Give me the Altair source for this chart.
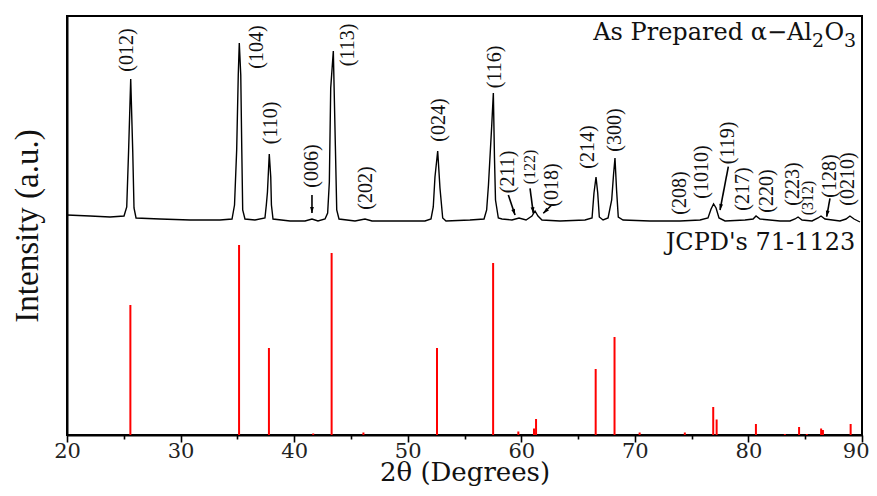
import math
import altair as alt
import pandas as pd

# ---------------- data ----------------
# Experimental pattern: 2-theta (degrees) and intensity (a.u.)
pattern_2theta = [
    20.00, 22.03, 23.79, 25.02,
    25.26, 25.42, 25.61, 25.79, 25.90, 26.08,
    28.19, 30.83, 33.47,
    34.53, 34.75, 34.94, 35.08, 35.17, 35.30, 35.39, 35.47, 35.67,
    36.55, 37.43, 37.55, 37.65, 37.81, 37.94, 38.00, 38.14,
    39.64, 40.96, 41.57, 42.10,
    42.72, 42.95, 43.10, 43.22, 43.45, 43.63, 43.75, 43.95,
    45.36, 46.24, 46.86, 49.32, 51.52,
    52.05, 52.25, 52.40, 52.64, 52.84, 53.08, 53.37,
    55.48, 56.72, 56.95, 57.11, 57.40, 57.54, 57.64, 57.73, 57.98,
    58.30, 59.18, 59.80, 60.42, 60.94, 61.21, 61.47, 61.82,
    63.41, 65.61,
    66.23, 66.40, 66.58, 66.73, 66.87, 67.20,
    67.64, 67.96, 68.12, 68.25, 68.39, 68.54, 68.96,
    71.33, 73.97, 75.74,
    76.44, 76.71, 76.93, 77.15, 77.41, 77.94,
    79.70, 80.41, 80.67, 81.02, 82.78, 83.66,
    84.10, 84.37, 84.72, 85.60,
    86.13, 86.39, 86.74, 88.06,
    88.59, 88.94, 89.30, 89.82,
]
pattern_intensity = [
    220, 219, 218, 219,
    228, 283, 356, 283, 227, 217,
    216, 215, 215,
    216, 230, 285, 360, 392, 360, 285, 225, 216,
    215, 217, 230, 243, 281, 258, 230, 216,
    214, 214, 216, 214,
    216, 222, 253, 347, 384, 289, 225, 216,
    214, 216, 214, 214, 214,
    216, 228, 258, 284, 247, 217, 214,
    215, 216, 225, 250, 310, 342, 277, 235, 217,
    216, 215, 217, 215, 219, 224, 219, 215,
    214, 215,
    217, 242, 258, 242, 218, 215,
    217, 235, 260, 277, 245, 218, 215,
    214, 214, 215,
    217, 226, 231, 227, 217, 214,
    215, 216, 219, 216, 214, 214,
    216, 218, 215, 214,
    217, 219, 216, 214,
    216, 219, 216, 213,
]

# Reference sticks (JCPDS 71-1123)
ref_2theta = [25.58, 35.15, 37.78, 41.68, 43.30, 46.10, 52.58, 57.52, 59.74,
              61.12, 61.30, 66.55, 68.21, 70.42, 74.40, 76.90, 77.20, 80.66,
              83.21, 84.46, 85.14, 86.40, 86.56, 89.00]
ref_intensity = [130, 190, 87, 1.5, 182, 2.5, 87, 172, 3.5,
                 6.5, 16, 66, 98, 2.5, 2.5, 28, 15.5, 11,
                 1, 8, 1, 6.5, 5, 11]

# Miller index labels
label_text = ["(012)", "(104)", "(110)", "(006)", "(113)", "(202)", "(024)",
              "(116)", "(211)", "(122)", "(018)", "(214)", "(300)", "(208)",
              "(1010)", "(119)", "(217)", "(220)", "(223)", "(312)", "(128)",
              "(0210)"]
label_x = [25.26, 36.70, 37.96, 41.55, 44.77, 46.33, 52.78,
           57.69, 58.86, 60.77, 62.68, 65.90, 68.25, 73.97,
           75.89, 78.23, 79.55, 81.61, 83.95, 85.25, 87.18,
           88.79]
label_y = [385, 388, 312, 269, 390, 247, 315,
           368, 263, 268, 250, 288, 305, 242,
           263, 292, 246, 244, 251, 237, 259,
           256]
label_size = [20, 20, 20, 20, 20, 20, 20,
              20, 20, 16, 20, 20, 20, 20,
              20, 20, 20, 20, 20, 16, 20,
              20]

# Arrows pointing at weak reflections
arrow_x0 = [41.57, 58.86, 60.77, 62.68, 78.23, 87.18]
arrow_y0 = [240, 240, 246.7, 230, 268.3, 236.7]
arrow_x1 = [41.57, 59.45, 61.06, 61.94, 77.50, 86.89]
arrow_y1 = [222, 220, 221.7, 221.7, 225, 218.3]

# Text annotations
title_main = "As Prepared α−Al"
sub_parts = ["2", "O", "3"]
sub_x = [85.60, 86.70, 88.42]
sub_y = [388, 395, 388]
sub_size = [19, 24, 19]
jcpd_text = "JCPD's 71-1123"

# ---------------- chart ----------------
W, H = 795, 419
X_DOM = [20, 90]
Y_DOM = [0, 419]
px_deg = W / (X_DOM[1] - X_DOM[0])
px_int = H / (Y_DOM[1] - Y_DOM[0])

pattern_df = pd.DataFrame({"x": pattern_2theta, "y": pattern_intensity,
                           "order": list(range(len(pattern_2theta)))})
ref_df = pd.DataFrame({"x": ref_2theta, "y": ref_intensity,
                       "base": [0] * len(ref_2theta)})
labels_df = pd.DataFrame({"x": label_x, "y": label_y, "text": label_text,
                          "size": label_size})

heads = []
for x0, y0, x1, y1 in zip(arrow_x0, arrow_y0, arrow_x1, arrow_y1):
    dx = (x1 - x0) * px_deg
    dy = (y1 - y0) * px_int
    ln = math.hypot(dx, dy)
    ang = math.degrees(math.atan2(dx, dy)) % 360
    hx = x1 - 3.5 * dx / ln / px_deg
    hy = y1 - 3.5 * dy / ln / px_int
    heads.append({"x": hx, "y": hy, "angle": ang})
arrows_df = pd.DataFrame({"x": arrow_x0, "y": arrow_y0, "x2": arrow_x1, "y2": arrow_y1})
heads_df = pd.DataFrame(heads)

xs = alt.Scale(domain=X_DOM, nice=False, zero=False)
ys = alt.Scale(domain=Y_DOM, nice=False, zero=False)

x_axis = alt.Axis(
    values=list(range(20, 91, 5)),
    labelExpr="datum.value % 10 === 0 ? datum.label : ''",
    title="2θ (Degrees)",
    grid=False,
    tickSize={"condition": {"test": "datum.value % 10 === 0", "value": 7}, "value": 4},
    tickWidth=1.6, tickColor="black",
    domainColor="black", domainWidth=2,
    labelFont="DejaVu Serif", labelFontSize=21, labelColor="#222222",
    labelPadding=-2, labelFlush=False, labelOverlap=False,
    labelAlign={"condition": {"test": "datum.value === 90", "value": "right"}, "value": "center"},
    labelOffset={"condition": {"test": "datum.value === 90", "value": 7}, "value": 0},
    titleFont="DejaVu Serif", titleFontSize=26, titleFontWeight="normal",
    titleColor="#111111", titleBaseline="alphabetic", titleAlign="center",
    titleX=W / 2, titleY=45,
)
y_axis = alt.Axis(
    title="Intensity (a.u.)", labels=False, ticks=False, grid=False,
    domainColor="black", domainWidth=2,
    titleFont="Liberation Serif", titleFontSize=33, titleFontWeight="normal",
    titleColor="#111111", titleAngle=270, titleAlign="center",
    titleBaseline="alphabetic", titleX=-29.5, titleY=209.5,
)

sticks = alt.Chart(ref_df).mark_rule(color="#ff0000", strokeWidth=2).encode(
    y2="base:Q",
)

pattern = alt.Chart(pattern_df).mark_line(color="black", strokeWidth=1.4).encode(
    order="order:Q",
)

labels = alt.Chart(labels_df).mark_text(
    angle=270, align="center", baseline="middle",
    font="Liberation Serif", color="#111111",
).encode(
    text="text:N",
    size=alt.Size("size:Q", scale=None, legend=None),
)

arrow_lines = alt.Chart(arrows_df).mark_rule(color="black", strokeWidth=1.6).encode(
    x2="x2:Q", y2="y2:Q",
)

arrow_heads = alt.Chart(heads_df).mark_point(
    shape="M0,-1.2L0.6,0.8L-0.6,0.8Z", filled=True, color="black",
    size=40, opacity=1,
).encode(
    angle=alt.Angle("angle:Q", scale=None),
)

title_main_df = pd.DataFrame({"x": [sub_x[0]], "y": [395], "text": [title_main]})
title_main_mark = alt.Chart(title_main_df).mark_text(
    align="right", baseline="alphabetic", font="DejaVu Serif", fontSize=24,
    color="#111111",
).encode(
    text="text:N",
)

sub_df = pd.DataFrame({"x": sub_x, "y": sub_y, "text": sub_parts, "size": sub_size})
sub_mark = alt.Chart(sub_df).mark_text(
    align="left", baseline="alphabetic", font="DejaVu Serif", color="#111111",
).encode(
    text="text:N",
    size=alt.Size("size:Q", scale=None, legend=None),
)

jcpd_df = pd.DataFrame({"x": [89.41], "y": [185], "text": [jcpd_text]})
jcpd_mark = alt.Chart(jcpd_df).mark_text(
    align="right", baseline="alphabetic", font="DejaVu Serif", fontSize=24,
    color="#111111",
).encode(
    text="text:N",
)

chart = alt.layer(
    sticks, pattern, arrow_lines, arrow_heads, labels,
    title_main_mark, sub_mark, jcpd_mark,
).encode(
    x=alt.X("x:Q", scale=xs, axis=x_axis),
    y=alt.Y("y:Q", scale=ys, axis=y_axis),
).properties(
    width=W, height=H,
    padding={"left": 59, "top": 8, "right": 7, "bottom": 53},
    autosize=alt.AutoSizeParams(type="none"),
    background="white",
).configure_view(
    stroke="black", strokeWidth=2,
)

chart.save("out.html", embed_options={"renderer": "svg", "actions": False})
